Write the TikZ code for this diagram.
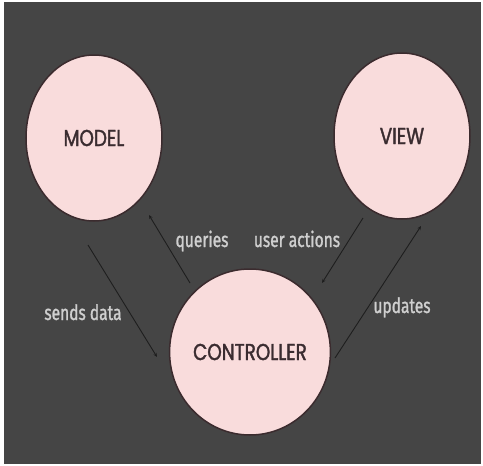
\documentclass[tikz,border=0pt]{standalone}
\usepackage{fontspec}
\usetikzlibrary{shapes.geometric,arrows.meta}
\newfontfamily\bubblefont[FakeStretch=0.8,FakeBold=1.6]{Poppins}
\newfontfamily\tagfont[FakeStretch=0.74,FakeBold=1.2]{Fira Sans}
\definecolor{slate}{HTML}{454545}
\definecolor{blush}{HTML}{F9DCDC}
\definecolor{rim}{HTML}{3B2B2E}
\definecolor{ink}{HTML}{3A2C30}
\definecolor{tagtext}{HTML}{CFCFCF}
\definecolor{wire}{HTML}{1E1E1E}
\tikzset{
	bubble/.style={ellipse,draw=rim,line width=1.5pt,fill=blush,minimum width=136pt,minimum height=166pt,inner sep=0pt,text=ink,font=\bubblefont\fontsize{23}{23}\selectfont},
	flow/.style={-{Stealth[length=4pt,width=3.5pt]},draw=wire,line width=0.9pt},
	tag/.style={anchor=base,inner sep=0pt,text=tagtext,font=\tagfont\fontsize{21}{21}\selectfont}
}
\begin{document}
\begin{tikzpicture}[x=1pt,y=-1pt]
		\useasboundingbox (0,0) rectangle (483,466);
		\fill[white] (0,0) rectangle (483,466);
		\fill[slate] (4,2) rectangle (481,464);
		\node[bubble] (model) at (94,138) {MODEL};
		\node[bubble] (view) at (402,136) {VIEW};
		\node[bubble] (ctrl) at (250,352) {CONTROLLER};
		\coordinate (A) at (88,245);
		\coordinate (B) at (157,357);
		\coordinate (C) at (190,283);
		\coordinate (D) at (149,215);
		\coordinate (E) at (363,218);
		\coordinate (F) at (322,283);
		\coordinate (G) at (335,358);
		\coordinate (H) at (421,226);
		\draw[flow] (A)--(B);
		\draw[flow] (C)--(D);
		\draw[flow] (E)--(F);
		\draw[flow] (G)--(H);
		\node[tag] (Q1) at (202,247) {queries};
		\node[tag] (U1) at (297,247) {user actions};
		\node[tag] (S1) at (83,320) {sends data};
		\node[tag] (P1) at (402,313) {updates};
	\end{tikzpicture}
\end{document}
